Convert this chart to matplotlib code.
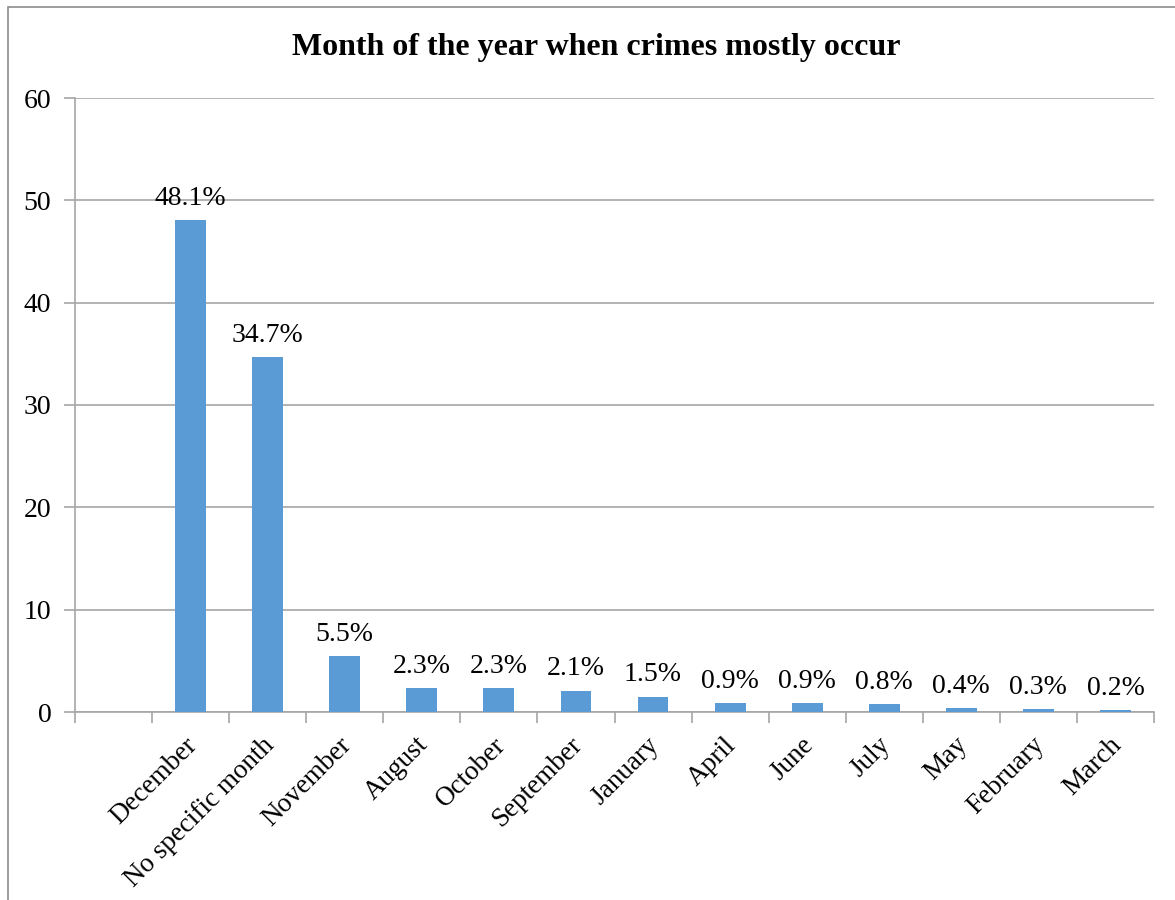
import matplotlib
matplotlib.use('Agg')
import matplotlib.pyplot as plt
from matplotlib.patches import Rectangle
import numpy as np

# leading blank slot like the original Excel chart
categories = ['', 'December', 'No specific month', 'November', 'August', 'October',
              'September', 'January', 'April', 'June', 'July', 'May', 'February', 'March']
values = [None, 48.1, 34.7, 5.5, 2.3, 2.3, 2.1, 1.5, 0.9, 0.9, 0.8, 0.4, 0.3, 0.2]
y_ticks = [0, 10, 20, 30, 40, 50, 60]

plt.rcParams['font.family'] = ['Liberation Serif', 'DejaVu Serif']

fig = plt.figure(figsize=(11.75, 9), dpi=100)
ax = fig.add_axes([75 / 1175, 188 / 900, 1079 / 1175, 614 / 900])

# outer chart frame
fig.patches.append(Rectangle((8 / 1175, -0.1), 1.2, (893 / 900) + 0.1, transform=fig.transFigure,
                             fill=False, edgecolor='#8c8c8c', linewidth=1.2))

n = len(categories)
x = np.arange(n)
bar_color = '#5B9BD5'
for i, v in enumerate(values):
    if v is None:
        continue
    ax.bar(x[i], v, width=0.4, color=bar_color, zorder=3)
    ax.text(x[i], v + 0.9, f'{v}%', ha='center', va='bottom', fontsize=20, zorder=4)

ax.set_xlim(-0.5, n - 0.5)
ax.set_ylim(0, 60)
ax.set_yticks(y_ticks)
ax.set_yticklabels([str(t) for t in y_ticks], fontsize=20)
ax.yaxis.grid(True, color='#a6a6a6', linewidth=1.2, zorder=0)
ax.set_axisbelow(True)

# tick marks on category boundaries
ax.set_xticks(np.arange(n + 1) - 0.5)
ax.set_xticklabels([])
for i, c in enumerate(categories):
    if c:
        ax.text(x[i] - 0.08, -2.0, c, rotation=45, ha='right', va='top',
                rotation_mode='anchor', fontsize=19.5)

for s in ['top', 'right']:
    ax.spines[s].set_visible(False)
for s in ['left', 'bottom']:
    ax.spines[s].set_color('#a6a6a6')
    ax.spines[s].set_linewidth(1.2)
ax.tick_params(axis='both', color='#a6a6a6', width=1.2, length=8)
ax.tick_params(axis='y', pad=9)

fig.text(596 / 1175, 1 - 47 / 900, 'Month of the year when crimes mostly occur',
         ha='center', va='center', fontsize=23, fontweight='bold')

fig.savefig('out.png', dpi=100)
